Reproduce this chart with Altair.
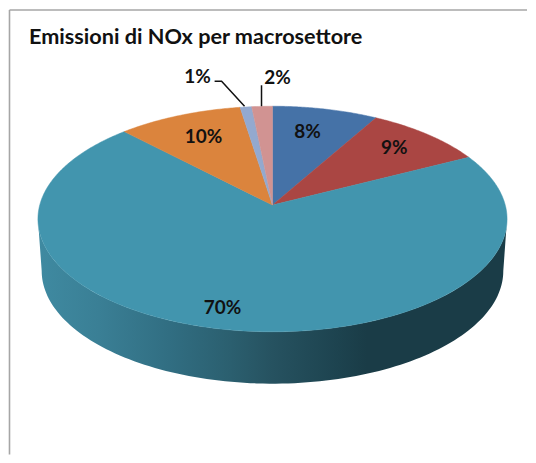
import altair as alt
import numpy as np
import pandas as pd

categories = ["A", "B", "C", "D", "E", "F"]
values = [8.2, 9.3, 70.3, 9.7, 0.9, 1.6]
colors = ["#4572a7", "#aa4643", "#4295ae", "#db843d", "#93a9cf", "#d19392"]
labels = ["8%", "9%", "70%", "10%", "1%", "2%"]
label_x = [308, 395, 223, 204, 198, 278]
label_y = [132, 148, 308, 137, 77, 78]
title_text = "Emissioni di NOx per macrosettore"

W, H = 520, 447
OFF = 8
X = alt.X("x:Q", scale=alt.Scale(domain=[OFF, OFF + W], nice=False, zero=False), axis=None)
Y = alt.Y("y:Q", scale=alt.Scale(domain=[OFF + H, OFF], nice=False, zero=False), axis=None)
CX, CY, A, B, K = 273, 205, 233.2, 111.25, 0.1237


def rim(deg):
    t = np.radians(deg)
    d = 1 + K * np.cos(t)
    return CX + A * np.sin(t) / d, CY - B * np.cos(t) / d


def poly(layer_pts, **mark):
    df = pd.DataFrame(layer_pts, columns=["x", "y"])
    df["i"] = range(len(df))
    return alt.Chart(df).mark_line(**mark).encode(x=X, y=Y, order="i:Q")


layers = []

# side wall
front = np.linspace(97.1, 262.9, 120)
fx, fy = rim(front)
bx = CX + (fx - CX) * 0.984
by = fy + 52
wall = list(zip(fx, fy)) + list(zip(bx[::-1], by[::-1]))
stops = [
    alt.GradientStop(offset=0.0, color="#3f8aa1"),
    alt.GradientStop(offset=0.13, color="#3a7f95"),
    alt.GradientStop(offset=0.28, color="#316e82"),
    alt.GradientStop(offset=0.41, color="#2b5f6f"),
    alt.GradientStop(offset=0.50, color="#265260"),
    alt.GradientStop(offset=0.64, color="#1d434f"),
    alt.GradientStop(offset=0.70, color="#1a3c47"),
    alt.GradientStop(offset=1.0, color="#1a3c47"),
]
grad = alt.LinearGradient(gradient="linear", x1=0, x2=1, y1=0, y2=0, stops=stops)
layers.append(poly(wall, fill=grad, stroke="#2b5f6f", strokeWidth=0))

# top faces
cum = 0.0
for v, c in zip(values, colors):
    start = cum / sum(values) * 360
    cum += v
    end = cum / sum(values) * 360
    th = np.linspace(start, end, max(4, int(end - start) * 2))
    rx, ry = rim(th)
    pts = [(CX, CY)] + list(zip(rx, ry)) + [(CX, CY)]
    layers.append(poly(pts, fill=c, stroke=c, strokeWidth=0.5))

# leader lines
lead1 = pd.DataFrame({"x": [215, 222, 245], "y": [81, 81, 106], "i": [0, 1, 2]})
lead2 = pd.DataFrame({"x": [262, 262], "y": [85, 106], "i": [0, 1]})
for d in (lead1, lead2):
    layers.append(
        alt.Chart(d).mark_line(color="#111111", strokeWidth=1.5).encode(x=X, y=Y, order="i:Q")
    )

# percent labels
ldf = pd.DataFrame({"x": label_x, "y": label_y, "t": labels})
layers.append(
    alt.Chart(ldf)
    .mark_text(font="Lato", fontSize=19, fontWeight="bold", color="#111111")
    .encode(x=X, y=Y, text="t:N")
)

# title
tdf = pd.DataFrame({"x": [29], "y": [37], "t": [title_text]})
layers.append(
    alt.Chart(tdf)
    .mark_text(font="Lato", fontSize=21.7, fontWeight="bold", color="#111111", align="left")
    .encode(x=X, y=Y, text="t:N")
)

# frame
layers.append(
    alt.Chart(pd.DataFrame({"k": [0]}))
    .mark_rule(color="#a6a6a6", strokeWidth=1.6)
    .encode(x=alt.value(1.5), y=alt.value(1.5), y2=alt.value(H))
)
layers.append(
    alt.Chart(pd.DataFrame({"k": [0]}))
    .mark_rule(color="#a6a6a6", strokeWidth=1.6)
    .encode(y=alt.value(1.5), x=alt.value(1.5), x2=alt.value(W))
)

chart = (
    alt.layer(*layers)
    .properties(width=W, height=H, padding=0, background="white")
    .configure_view(stroke=None)
)
chart.save("out.html", embed_options={"renderer": "svg", "actions": False})
